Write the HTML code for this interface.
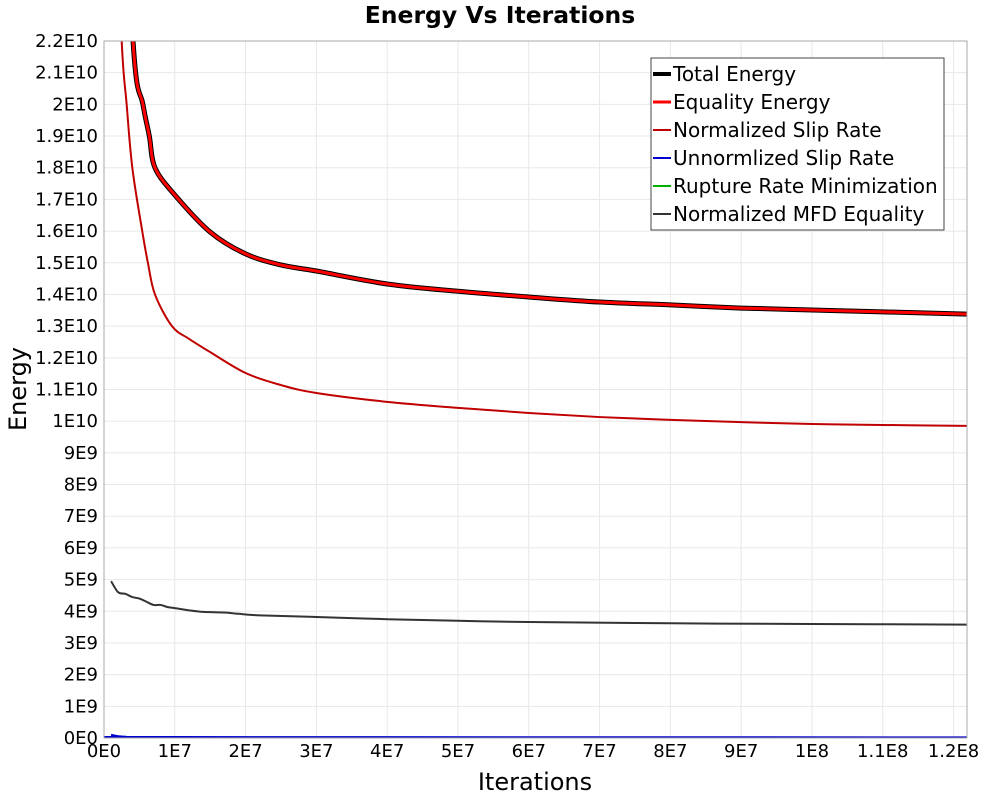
<!DOCTYPE html>
<html><head><meta charset="utf-8"><style>
body{margin:0;background:#fff;font-family:"DejaVu Sans","Liberation Sans",sans-serif}
</style></head><body>
<svg width="1000" height="800" xmlns="http://www.w3.org/2000/svg" font-family="DejaVu Sans, Liberation Sans, sans-serif">
<text x="500" y="23" text-anchor="middle" font-size="23.5" font-weight="bold">Energy Vs Iterations</text>
<g id="grid"></g><g id="axes"></g>
<defs><clipPath id="pc"><rect x="104" y="41" width="863" height="697"/></clipPath></defs>
<g id="series" clip-path="url(#pc)"></g>
<rect x="104" y="41" width="863" height="697" fill="none" stroke="#aaa"/>
<text x="535" y="790" text-anchor="middle" font-size="24">Iterations</text>
<text transform="translate(26,389) rotate(-90)" text-anchor="middle" font-size="24">Energy</text>
<g id="legend"></g>
</svg>
<script>
const xTicks=[0,1e7,2e7,3e7,4e7,5e7,6e7,7e7,8e7,9e7,1e8,1.1e8,1.2e8];
const xTickLabels=["0E0","1E7","2E7","3E7","4E7","5E7","6E7","7E7","8E7","9E7","1E8","1.1E8","1.2E8"];
const yTicks=[];for(let i=0;i<=22;i++)yTicks.push(i*1e9);
const yTickLabels=["0E0","1E9","2E9","3E9","4E9","5E9","6E9","7E9","8E9","9E9","1E10","1.1E10","1.2E10","1.3E10","1.4E10","1.5E10","1.6E10","1.7E10","1.8E10","1.9E10","2E10","2.1E10","2.2E10"];
const totalX=[0.2e7,0.41e7,0.55e7,0.64e7,0.72e7,1.0e7,1.5e7,2e7,2.5e7,3e7,4e7,5e7,6e7,7e7,8e7,9e7,1e8,1.1e8,1.219e8];
const totalY=[3.2e10,2.2e10,2.0e10,1.9e10,1.8e10,1.714e10,1.597e10,1.528e10,1.493e10,1.474e10,1.433e10,1.41e10,1.392e10,1.376e10,1.367e10,1.357e10,1.351e10,1.345e10,1.338e10];
const slipX=[0.15e7,0.25e7,0.32e7,0.4e7,0.54e7,0.62e7,0.72e7,0.96e7,1.2e7,1.5e7,2e7,2.5e7,3e7,4e7,5e7,6e7,7e7,8e7,9e7,1e8,1.1e8,1.219e8];
const slipY=[2.8e10,2.2e10,2.0e10,1.8e10,1.6e10,1.5e10,1.4e10,1.3e10,1.26e10,1.218e10,1.152e10,1.114e10,1.089e10,1.061e10,1.042e10,1.026e10,1.013e10,1.004e10,0.997e10,0.991e10,0.988e10,0.985e10];
const mfdX=[1e6,2e6,3e6,4e6,5e6,6e6,7e6,8e6,9e6,1e7,1.2e7,1.4e7,1.7e7,1.9e7,2.2e7,3e7,4e7,5e7,6e7,8e7,1e8,1.219e8];
const mfdY=[4.95e9,4.6e9,4.55e9,4.45e9,4.4e9,4.3e9,4.2e9,4.2e9,4.13e9,4.1e9,4.03e9,3.98e9,3.96e9,3.92e9,3.87e9,3.82e9,3.75e9,3.7e9,3.66e9,3.62e9,3.6e9,3.58e9];
const unX=[1e6,3e6,1e7,1.219e8];
const unY=[1e8,4e7,3e7,2e7];
const rupX=[1e6,1.219e8];
const rupY=[0,0];
const X0=104,X1=967,Y0=738,Y1=41,XMAX=1.219e8,YMAX=2.2e10;
const sx=v=>X0+v/XMAX*(X1-X0), sy=v=>Y0-v/YMAX*(Y0-Y1);
const NS="http://www.w3.org/2000/svg";
function mk(t,a,p){const e=document.createElementNS(NS,t);for(const k in a)e.setAttribute(k,a[k]);p.appendChild(e);return e;}
const grid=document.getElementById('grid'),axes=document.getElementById('axes');
xTicks.forEach((v,i)=>{
const l=mk('line',{x1:sx(v),x2:sx(v),y1:Y1,y2:Y0,stroke:'#e8e8e8'},grid);


const t=mk('text',{x:sx(v),y:757,'text-anchor':'middle','font-size':18},axes);t.textContent=xTickLabels[i];


});
yTicks.forEach((v,i)=>{
const l=mk('line',{x1:X0,x2:X1,y1:sy(v),y2:sy(v),stroke:'#e8e8e8'},grid);


const t=mk('text',{x:98,y:sy(v)+6,'text-anchor':'end','font-size':18},axes);t.textContent=yTickLabels[i];


});
const ser=document.getElementById('series');
function smooth(xs,ys){const P=xs.map((x,i)=>[sx(x),sy(ys[i])]);let d='M'+P[0][0]+','+P[0][1];
for(let i=0;i<P.length-1;i++){const p0=P[Math.max(0,i-1)],p1=P[i],p2=P[i+1],p3=P[Math.min(P.length-1,i+2)];
const c1=[p1[0]+(p2[0]-p0[0])/6,p1[1]+(p2[1]-p0[1])/6],c2=[p2[0]-(p3[0]-p1[0])/6,p2[1]-(p3[1]-p1[1])/6];
d+=' C'+c1[0]+','+c1[1]+' '+c2[0]+','+c2[1]+' '+p2[0]+','+p2[1];}return d;}
function line(xs,ys,col,w,name){const p=mk('path',{d:smooth(xs,ys),fill:'none',stroke:col,'stroke-width':w,'stroke-linejoin':'round'},ser);

}
line(rupX,rupY,'#00b000',2,'rupture-rate-line');
line(unX,unY,'#0000cc',2,'unnormalized-slip-rate-line');
line(mfdX,mfdY,'#333',2,'normalized-mfd-line');
line(slipX,slipY,'#c00000',2,'normalized-slip-rate-line');
line(totalX,totalY,'#000',5,'total-energy-line');
line(totalX,totalY,'#ff0000',3,'equality-energy-line');
const lg=document.getElementById('legend');
mk('rect',{x:651,y:58,width:293,height:172,fill:'#fff',stroke:'#444'},lg);
const items=[["Total Energy","#000",4],["Equality Energy","#ff0000",3],["Normalized Slip Rate","#c00000",2],["Unnormlized Slip Rate","#0000cc",2],["Rupture Rate Minimization","#00b000",2],["Normalized MFD Equality","#333",2]];
items.forEach((it,i)=>{const y=74+i*28;
const l=mk('line',{x1:653,x2:671,y1:y,y2:y,stroke:it[1],'stroke-width':it[2]},lg);


const t=mk('text',{x:673,y:y+7,'font-size':20},lg);t.textContent=it[0];

});
</script>
</body></html>
